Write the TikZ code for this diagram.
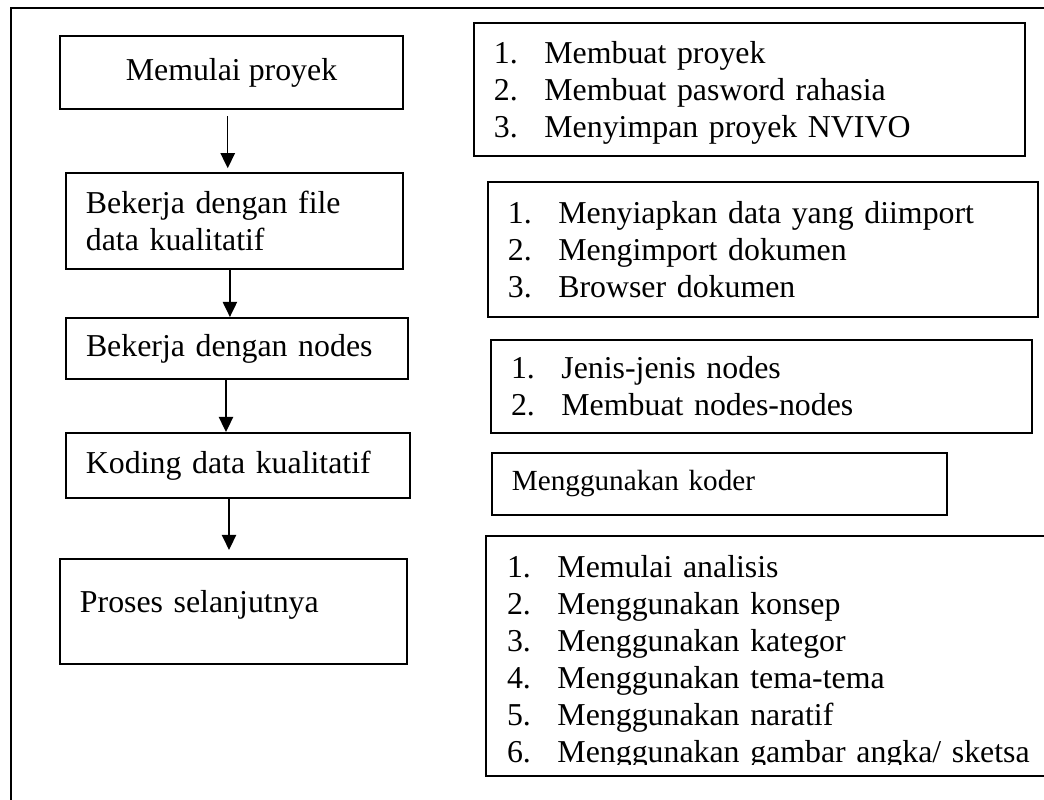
\documentclass[tikz,border=0pt]{standalone}
\usepackage{fontspec}
\setmainfont{Liberation Serif}
\usepackage{tikz}
\usetikzlibrary{arrows.meta, positioning, calc}

\newcommand{\nitem}[1]{\makebox[19pt][l]{#1}}

\begin{document}
\begin{tikzpicture}[
        font=\fontsize{12}{13.9}\selectfont,
        box/.style={draw, line width=0.75pt, inner xsep=7.5pt, inner ysep=0pt},
        listbox/.style={box, align=left},
        arr/.style={line width=0.5pt, -{Triangle[length=2mm, width=1.9mm]}}
    ]
        \useasboundingbox (0,0) rectangle (13.826,-10.594);

        % frame
        \draw[line width=0.75pt] (0.146,-11) -- (0.146,-0.106) -- (14.2,-0.106);

        % steps
        \node[box, minimum width=4.542cm, minimum height=0.967cm] (mulai) at (3.066,-0.960) {Memulai proyek};
        \node[listbox, text width=3.934cm, minimum height=1.271cm] (file) at (3.105,-2.927) {Bekerja dengan file\\data kualitatif};
        \node[listbox, text width=4.000cm, minimum height=0.808cm] (nodes) at (3.139,-4.615) {Bekerja dengan nodes};
        \node[listbox, text width=4.027cm, minimum height=0.861cm] (koding) at (3.152,-6.165) {Koding data kualitatif};
        \node[listbox, text width=4.066cm, minimum height=1.391cm, text depth=7.9pt] (proses) at (3.092,-8.098) {Proses selanjutnya};

        \draw[arr, shorten <=0.08cm, shorten >=0.05cm] ([xshift=-0.05cm]mulai.south) -- ([xshift=-0.05cm]mulai.south |- file.north);
        \draw[arr] ([xshift=-0.06cm]file.south) -- ([xshift=-0.06cm]file.south |- nodes.north);
        \draw[arr] ([xshift=-0.146cm]nodes.south) -- ([xshift=-0.146cm]nodes.south |- koding.north);
        \draw[arr, shorten >=0.106cm] ([xshift=-0.119cm]koding.south) -- ([xshift=-0.119cm]koding.south |- proses.north);

        % details
        \node[listbox, text width=6.768cm, minimum height=1.761cm, text depth=27.8pt] (buat) at (9.926,-1.185) {\nitem{1.}Membuat proyek\\
            \nitem{2.}Membuat pasword rahasia\\
            \nitem{3.}Menyimpan proyek NVIVO};
        \node[listbox, text width=6.755cm, minimum height=1.788cm] (impor) at (10.104,-3.304) {\nitem{1.}Menyiapkan data yang diimport\\
            \nitem{2.}Mengimport dokumen\\
            \nitem{3.}Browser dokumen};
        \node[listbox, text width=6.635cm, minimum height=1.232cm] (jenis) at (10.085,-5.118) {\nitem{1.}Jenis-jenis nodes\\
            \nitem{2.}Membuat nodes-nodes};
        \node[listbox, text width=5.497cm, minimum height=0.821cm, font=\fontsize{11}{12.7}\selectfont] (koder) at (9.528,-6.410) {Menggunakan koder};

        \begin{scope}
            \clip (6.3,-7.0) rectangle (14.5,-10.118);
            \node[listbox, draw=none, text width=7.19cm, minimum height=3.152cm, text depth=67.4pt] (analisis) at (10.310,-8.687) {\nitem{1.}Memulai analisis\\
                \nitem{2.}Menggunakan konsep\\
                \nitem{3.}Menggunakan kategor\\
                \nitem{4.}Menggunakan tema-tema\\
                \nitem{5.}Menggunakan naratif\\
                \nitem{6.}Menggunakan gambar angka/ sketsa};
        \end{scope}
        \draw[line width=0.75pt] (analisis.north west) rectangle (analisis.south east);
    \end{tikzpicture}
\end{document}
